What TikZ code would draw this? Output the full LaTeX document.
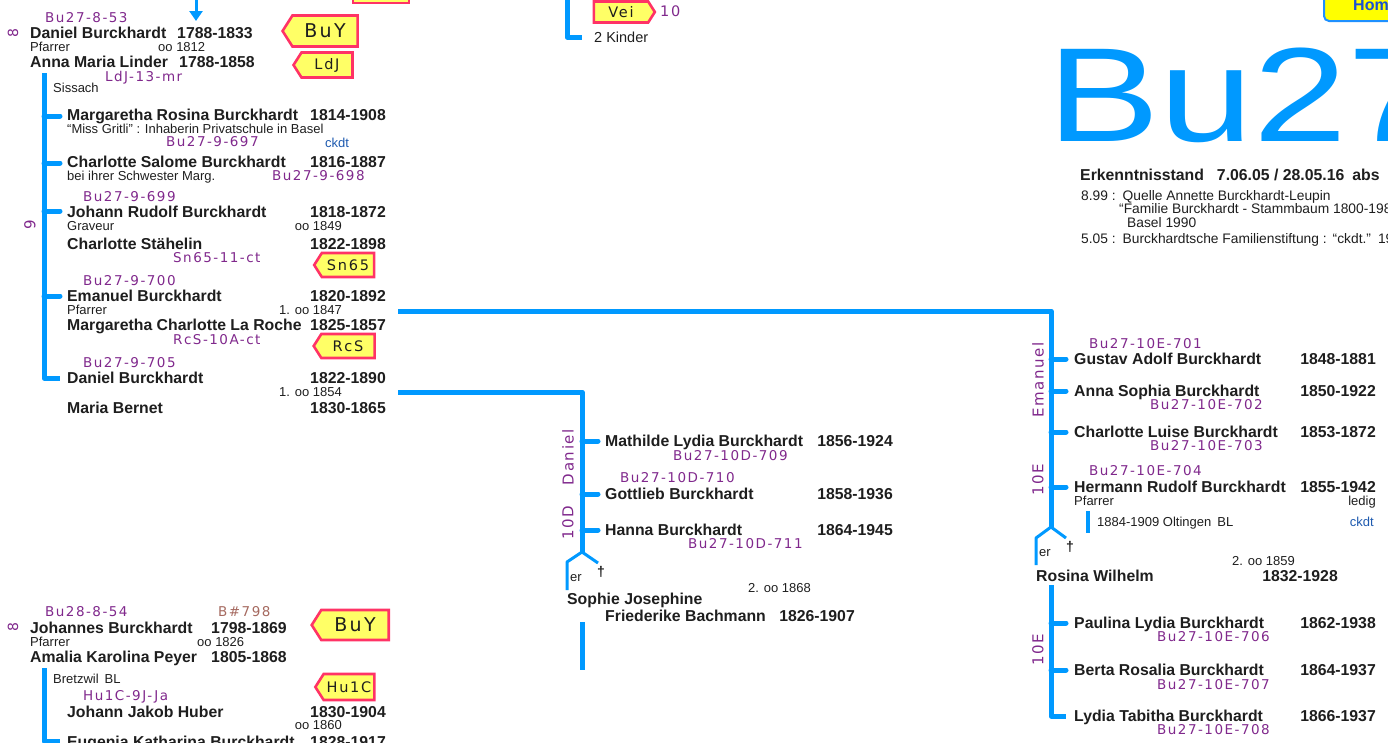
\documentclass[tikz,border=0pt]{standalone}
\usepackage{fontspec}
\usepackage{graphicx}
\setmainfont{Liberation Sans}
\newfontfamily\codefnt[LetterSpace=11]{DejaVu Sans}
\newfontfamily\tagfnt[LetterSpace=12]{DejaVu Sans}
\usetikzlibrary{shapes.symbols,arrows.meta}
\definecolor{lblue}{RGB}{0,153,255}
\definecolor{cpurp}{RGB}{128,40,140}
\definecolor{tagred}{RGB}{255,51,102}
\definecolor{tagyel}{RGB}{255,255,102}
\definecolor{ink}{RGB}{30,30,30}
\definecolor{ckblue}{RGB}{30,90,175}
\definecolor{brn}{RGB}{165,105,95}
\definecolor{homeblue}{RGB}{30,144,255}
\definecolor{homeyel}{RGB}{255,255,0}
\definecolor{hometxt}{RGB}{25,80,210}
\begin{document}
\begin{tikzpicture}[x=1pt,y=-1pt,
  nm/.style={inner sep=0pt, text height=11pt, text depth=0pt, text=ink, font=\bfseries\fontsize{15.8}{17}\selectfont, anchor=west},
  yr/.style={nm, anchor=east},
  sm/.style={inner sep=0pt, text height=9pt, text depth=0pt, text=ink, font=\fontsize{13}{14}\selectfont, anchor=west},
  smr/.style={sm, anchor=east},
  ck/.style={sm, text=ckblue},
  info/.style={sm, font=\fontsize{13.8}{15}\selectfont},
  cd/.style={inner sep=0pt, text height=9.6pt, text depth=0pt, text=cpurp, font=\codefnt\fontsize{13.5}{15}\selectfont, anchor=west},
  rl/.style={inner sep=0pt, text=cpurp, font=\codefnt\fontsize{15}{16}\selectfont, rotate=90},
  tagbox/.style={signal, signal to=west, signal pointer angle=115, draw=tagred, fill=tagyel, line width=2.6pt, inner sep=0pt, text=ink},
  bl/.style={draw=lblue, line width=5pt, line join=round},
  tick/.style={draw=lblue, line width=5pt, line cap=round},
  fork/.style={draw=lblue, line width=3pt, line join=round},
]
\useasboundingbox (0,0) rectangle (1388,742);

% ---------------- top left ----------------
\coordinate (arT) at (196,-2);
\coordinate (arB) at (196,21);
\draw[lblue, line width=3pt, -{Triangle[width=13pt,length=10pt]}] (arT) -- (arB);
\node[draw=tagred, fill=tagyel, line width=2.6pt, minimum width=56pt, minimum height=26pt, inner sep=0pt] (topbox) at (381,-10) {};

\node[cd] (c853) at (45,18) {Bu27-8-53};
\node[rl, font=\codefnt\fontsize{14}{15}\selectfont] (g8a) at (13,33) {8};
\node[nm] (dan1) at (30,33) {Daniel Burckhardt};
\node[yr] (dan1y) at (253,33) {1788-1833};
\node[sm] (dan1p) at (30,47) {Pfarrer};
\node[sm] (dan1m) at (158,47) {oo 1812};
\node[nm] (anna) at (30,62) {Anna Maria Linder};
\node[yr] (annay) at (255,62) {1788-1858};
\node[cd] (ldjc) at (105,77) {LdJ-13-mr};
\node[sm] (siss) at (53,88) {Sissach};
\node[tagbox, minimum width=75pt, minimum height=31pt, font=\tagfnt\fontsize{19}{19}\selectfont] (buy1) at (325,31) {BuY};
\node[tagbox, minimum width=59pt, minimum height=25pt, font=\tagfnt\fontsize{14.5}{14.5}\selectfont] (ldj) at (327,65) {LdJ};

% family line 9
\coordinate (f9t) at (44,73);
\coordinate (f9b) at (44,378);
\coordinate (f9e) at (60,378);
\draw[bl] (f9t) -- (f9b) -- (f9e);
\foreach \yy in {116,163,211,296} { \draw[tick] (44,\yy) -- (60,\yy); }
\node[rl] (g9) at (30,225) {9};

\node[nm] (mar) at (67,115) {Margaretha Rosina Burckhardt};
\node[yr] (mary) at (386,115) {1814-1908};
\node[sm] (marn) at (67,129) {“Miss Gritli” : Inhaberin Privatschule in Basel};
\node[cd] (c697) at (166,142) {Bu27-9-697};
\node[ck] (ck1) at (325,143) {ckdt};

\node[nm] (cha) at (67,162) {Charlotte Salome Burckhardt};
\node[yr] (chay) at (386,162) {1816-1887};
\node[sm] (chan) at (67,176) {bei ihrer Schwester Marg.};
\node[cd] (c698) at (272,176) {Bu27-9-698};

\node[cd] (c699) at (83,197) {Bu27-9-699};
\node[nm] (joh) at (67,212) {Johann Rudolf Burckhardt};
\node[yr] (johy) at (386,212) {1818-1872};
\node[sm] (johp) at (67,226) {Graveur};
\node[smr] (johm) at (342,226) {oo 1849};
\node[nm] (sta) at (67,244) {Charlotte Stähelin};
\node[yr] (stay) at (386,244) {1822-1898};
\node[cd] (csn) at (173,258) {Sn65-11-ct};
\node[tagbox, minimum width=60pt, minimum height=24pt, font=\tagfnt\fontsize{14.5}{14.5}\selectfont] (sn65) at (348,265) {Sn65};

\node[cd] (c700) at (83,281) {Bu27-9-700};
\node[nm] (ema) at (67,296) {Emanuel Burckhardt};
\node[yr] (emay) at (386,296) {1820-1892};
\node[sm] (emap) at (67,310) {Pfarrer};
\node[smr] (emam) at (342,310) {1. oo 1847};
\node[nm] (lar) at (67,325) {Margaretha Charlotte La Roche};
\node[yr] (lary) at (386,325) {1825-1857};
\node[cd] (crcs) at (173,340) {RcS-10A-ct};
\node[tagbox, minimum width=61pt, minimum height=24pt, font=\tagfnt\fontsize{14.5}{14.5}\selectfont] (rcs) at (348,346) {RcS};

\node[cd] (c705) at (83,363) {Bu27-9-705};
\node[nm] (dan2) at (67,378) {Daniel Burckhardt};
\node[yr] (dan2y) at (386,378) {1822-1890};
\node[smr] (dan2m) at (342,392) {1. oo 1854};
\node[nm] (ber) at (67,408) {Maria Bernet};
\node[yr] (bery) at (386,408) {1830-1865};

% ---------------- connectors to the right ----------------
\coordinate (emS) at (398,311);
\coordinate (emC) at (1051,311);
\coordinate (emF) at (1051,527);
\draw[bl] (emS) -- (emC) -- (emF);
\coordinate (daS) at (398,392);
\coordinate (daC) at (582,392);
\coordinate (daF) at (582,552);
\draw[bl] (daS) -- (daC) -- (daF);

% ---------------- middle (Daniel, 10D) ----------------
\foreach \yy in {441,494,530} { \draw[tick] (582,\yy) -- (598,\yy); }
\node[rl] (gdan) at (568,457) {Daniel};
\node[rl] (g10d) at (568,523) {10D};
\node[nm] (mat) at (605,441) {Mathilde Lydia Burckhardt};
\node[yr] (maty) at (893,441) {1856-1924};
\node[cd] (c709) at (673,456) {Bu27-10D-709};
\node[cd] (c710) at (620,478) {Bu27-10D-710};
\node[nm] (got) at (605,494) {Gottlieb Burckhardt};
\node[yr] (goty) at (893,494) {1858-1936};
\node[nm] (han) at (605,530) {Hanna Burckhardt};
\node[yr] (hany) at (893,530) {1864-1945};
\node[cd] (c711) at (688,544) {Bu27-10D-711};
\coordinate (dfl) at (567,562);
\coordinate (dfb) at (567,590);
\coordinate (dfr) at (598,563);
\draw[fork] (daF) -- (dfl) -- (dfb);
\draw[fork] (daF) -- (dfr);
\node[sm] (der) at (570,577) {er};
\node[inner sep=0pt, text=ink, font=\bfseries\fontsize{14}{14}\selectfont] (dcross) at (601,572) {†};
\node[sm] (dm2) at (748,588) {2. oo 1868};
\node[nm] (sop) at (567,599) {Sophie Josephine};
\node[nm] (bac) at (605,616) {Friederike Bachmann};
\node[yr] (bacy) at (855,616) {1826-1907};
\coordinate (dlt) at (582,622);
\coordinate (dlb) at (582,670);
\draw[bl] (dlt) -- (dlb);

% ---------------- top middle ----------------
\coordinate (tmT) at (567,-3);
\coordinate (tmB) at (567,37);
\coordinate (tmE) at (582,37);
\draw[bl] (tmT) -- (tmB) -- (tmE);
\node[tagbox, signal to=east, minimum width=61pt, minimum height=21pt, font=\tagfnt\fontsize{14.5}{14.5}\selectfont] (vei) at (621,12) {Vei};
\node[cd, font=\codefnt\fontsize{14.5}{16}\selectfont] (c10) at (660,12) {10};
\node[sm, font=\fontsize{14.5}{16}\selectfont, text height=10.5pt] (kin) at (594,37) {2 Kinder};

% ---------------- top right ----------------
\node[draw=homeblue, fill=homeyel, line width=2pt, rounded corners=5pt, minimum width=85pt, minimum height=36pt, anchor=south west, inner sep=0pt] (home) at (1323,22) {};
\node[inner sep=0pt, anchor=west, text=hometxt, font=\bfseries\fontsize{16}{17}\selectfont] (homet) at (1353,5) {Home};
\node[inner sep=0pt, anchor=west, text=lblue, font=\fontsize{134}{134}\selectfont] (big) at (1047,95) {\scalebox{1.26}[1]{Bu27}};
\node[nm] (erk) at (1080,175) {Erkenntnisstand\hspace{13pt}7.06.05 / 28.05.16\hspace{8pt}abs};
\node[info] (q1) at (1081,196) {8.99 :\hspace{7pt}Quelle Annette Burckhardt-Leupin};
\node[info] (q2) at (1119,209) {“Familie Burckhardt - Stammbaum 1800-1987”};
\node[info] (q3) at (1127,223) {Basel 1990};
\node[info] (q4) at (1081,239) {5.05 :\hspace{7pt}Burckhardtsche Familienstiftung :\hspace{6pt}“ckdt.”\hspace{7pt}199};

% ---------------- right (Emanuel, 10E) ----------------
\foreach \yy in {359,391,432,487} { \draw[tick] (1051,\yy) -- (1066,\yy); }
\node[rl] (gema) at (1038,380) {Emanuel};
\node[rl] (g10e) at (1038,480) {10E};
\node[cd] (c701) at (1089,344) {Bu27-10E-701};
\node[nm] (gus) at (1074,359) {Gustav Adolf Burckhardt};
\node[yr] (gusy) at (1376,359) {1848-1881};
\node[nm] (aso) at (1074,391) {Anna Sophia Burckhardt};
\node[yr] (asoy) at (1376,391) {1850-1922};
\node[cd] (c702) at (1150,405) {Bu27-10E-702};
\node[nm] (clu) at (1074,432) {Charlotte Luise Burckhardt};
\node[yr] (cluy) at (1376,432) {1853-1872};
\node[cd] (c703) at (1150,446) {Bu27-10E-703};
\node[cd] (c704) at (1089,471) {Bu27-10E-704};
\node[nm] (her) at (1074,487) {Hermann Rudolf Burckhardt};
\node[yr] (hery) at (1376,487) {1855-1942};
\node[sm] (herp) at (1074,501) {Pfarrer};
\node[smr] (herl) at (1376,501) {ledig};
\coordinate (hbt) at (1088,511);
\coordinate (hbb) at (1088,533);
\draw[draw=lblue, line width=4pt] (hbt) -- (hbb);
\node[sm] (olt) at (1097,522) {1884-1909 Oltingen\hspace{6pt}BL};
\node[ck, anchor=east] (ck2) at (1374,522) {ckdt};
\coordinate (efl) at (1036,538);
\coordinate (efb) at (1036,565);
\coordinate (efr) at (1066,538);
\draw[fork] (emF) -- (efl) -- (efb);
\draw[fork] (emF) -- (efr);
\node[sm] (eer) at (1039,552) {er};
\node[inner sep=0pt, text=ink, font=\bfseries\fontsize{14}{14}\selectfont] (ecross) at (1070,547) {†};
\node[smr] (em2) at (1295,561) {2. oo 1859};
\node[nm] (ros) at (1036,576) {Rosina Wilhelm};
\node[yr] (rosy) at (1338,576) {1832-1928};
\coordinate (e2t) at (1051,585);
\coordinate (e2b) at (1051,716);
\coordinate (e2e) at (1066,716);
\draw[bl] (e2t) -- (e2b) -- (e2e);
\foreach \yy in {623,670} { \draw[tick] (1051,\yy) -- (1066,\yy); }
\node[rl] (g10e2) at (1038,650) {10E};
\node[nm] (pau) at (1074,623) {Paulina Lydia Burckhardt};
\node[yr] (pauy) at (1376,623) {1862-1938};
\node[cd] (c706) at (1157,637) {Bu27-10E-706};
\node[nm] (bro) at (1074,670) {Berta Rosalia Burckhardt};
\node[yr] (broy) at (1376,670) {1864-1937};
\node[cd] (c707) at (1157,685) {Bu27-10E-707};
\node[nm] (lyd) at (1074,716) {Lydia Tabitha Burckhardt};
\node[yr] (lydy) at (1376,716) {1866-1937};
\node[cd] (c708) at (1157,730) {Bu27-10E-708};

% ---------------- bottom left ----------------
\node[cd] (c854) at (45,612) {Bu28-8-54};
\node[cd, text=brn] (b798) at (218,612) {B\#798};
\node[rl, font=\codefnt\fontsize{14}{15}\selectfont] (g8b) at (13,627) {8};
\node[nm] (jhs) at (30,628) {Johannes Burckhardt};
\node[yr] (jhsy) at (287,628) {1798-1869};
\node[sm] (jhsp) at (30,642) {Pfarrer};
\node[sm] (jhsm) at (197,642) {oo 1826};
\node[nm] (pey) at (30,657) {Amalia Karolina Peyer};
\node[yr] (peyy) at (287,657) {1805-1868};
\node[tagbox, minimum width=77pt, minimum height=30pt, font=\tagfnt\fontsize{19}{19}\selectfont] (buy2) at (355,625) {BuY};
\coordinate (f8t) at (44,668);
\coordinate (f8b) at (44,741);
\coordinate (f8e) at (60,741);
\draw[bl] (f8t) -- (f8b) -- (f8e);
\node[sm] (bre) at (53,679) {Bretzwil\hspace{6pt}BL};
\node[tagbox, minimum width=59pt, minimum height=26pt, font=\tagfnt\fontsize{14.5}{14.5}\selectfont] (hu1c) at (349,687) {Hu1C};
\node[cd] (chu) at (83,696) {Hu1C-9J-Ja};
\node[nm] (hub) at (67,712) {Johann Jakob Huber};
\node[yr] (huby) at (386,712) {1830-1904};
\node[smr] (hubm) at (342,725) {oo 1860};
\node[nm] (eug) at (67,742) {Eugenia Katharina Burckhardt};
\node[yr] (eugy) at (386,742) {1828-1917};
\end{tikzpicture}
\end{document}
